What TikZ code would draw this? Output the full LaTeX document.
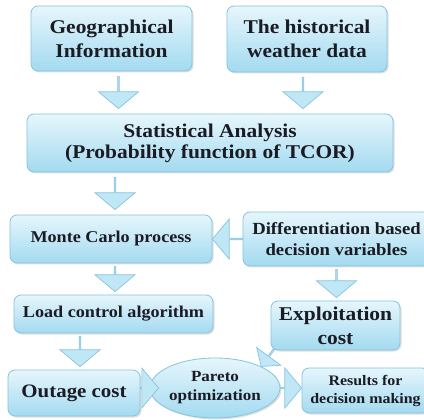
\documentclass[tikz,border=0pt]{standalone}
\usepackage{fontspec}
\setmainfont{Liberation Serif}[FakeStretch=1.1]
\usetikzlibrary{shapes.arrows,shapes.geometric,shadows,calc}

\definecolor{boxtop}{HTML}{E6F6FC}
\definecolor{boxbot}{HTML}{A3DAF0}
\definecolor{boxline}{HTML}{86C4DC}
\definecolor{arrfill}{HTML}{C0E7F6}
\definecolor{txt}{HTML}{1B1B24}

\pgfdeclarelayer{bg}
\pgfsetlayers{bg,main}

\tikzset{
    stepbox/.style={draw=boxline, line width=0.8pt, rounded corners=7pt,
        top color=boxtop, bottom color=boxbot,
        drop shadow={shadow xshift=1.5pt, shadow yshift=-1.5pt, opacity=0.25},
        text=txt, align=center, inner sep=0pt},
    fs/.style 2 args={font=\bfseries\fontsize{#1}{#2}\selectfont},
    blockarrow/.style={single arrow, draw=boxline, fill=arrfill, line width=0.7pt,
        minimum width=40pt, single arrow head extend=8.5pt,
        single arrow tip angle=100, inner sep=0pt, outer sep=0pt}
}

% fat arrow from #2 to #3, #1 = gap at both ends (pt)
\newcommand\fatarrow[3][5]{%
    \path let \p1=(#2), \p2=(#3),
              \n1={atan2(\y2-\y1,\x2-\x1)},
              \n2={veclen(\x2-\x1,\y2-\y1)} in
        node[blockarrow, rotate=\n1, anchor=tail, minimum height=\n2-2*#1]
            at ($(\p1)!#1pt!(\p2)$) {};
}

\begin{document}
\begin{tikzpicture}[x=1pt, y=-1pt]
    \useasboundingbox (0,0) rectangle (424,420);

    \node[stepbox, fs={19.5}{24}, minimum width=161pt, minimum height=65pt] (geo) at (111.5,38.5)
        {Geographical\\Information};
    \node[stepbox, fs={19.5}{24}, minimum width=160pt, minimum height=66pt] (hist) at (307,39)
        {The historical\\weather data};
    \node[stepbox, fs={19.5}{21}, minimum width=366pt, minimum height=58pt] (stat) at (210,143)
        {Statistical Analysis\\(Probability function of TCOR)};
    \node[stepbox, fs={16.5}{20}, minimum width=202pt, minimum height=48pt] (monte) at (111,239)
        {Monte Carlo process};
    \node[stepbox, fs={17}{21}, minimum width=187pt, minimum height=54pt] (diff) at (336.5,239)
        {Differentiation based\\decision variables};
    \node[stepbox, fs={16.5}{20}, minimum width=199pt, minimum height=38pt] (load) at (113.5,314)
        {Load control algorithm};
    \node[stepbox, fs={19.5}{24}, minimum width=129pt, minimum height=49pt] (exploit) at (335.5,325.5)
        {Exploitation\\cost};
    \node[stepbox, fs={19}{23}, minimum width=132pt, minimum height=46pt] (outage) at (74,393)
        {Outage cost};
    \begin{pgfonlayer}{bg}
        \node[stepbox, ellipse, fs={15.5}{19}, minimum width=104pt, minimum height=60pt] (pareto) at (215,388)
            {Pareto\\optimization};
    \end{pgfonlayer}
    \node[stepbox, fs={14.5}{18}, minimum width=127pt, minimum height=45pt] (results) at (365.5,390.5)
        {Results for\\decision making};

    \fatarrow{[xshift=7pt]geo.south}{[xshift=7pt]geo.south |- stat.north}
    \fatarrow{[xshift=-4pt]hist.south}{[xshift=-4pt]hist.south |- stat.north}
    \fatarrow{[xshift=4pt]monte.north |- stat.south}{[xshift=4pt]monte.north}
    \fatarrow[0]{diff.west}{diff.west -| monte.east}
    \fatarrow[3]{[xshift=4pt]monte.south}{[xshift=4pt]monte.south |- load.north}
    \fatarrow[3]{diff.south}{diff.south |- exploit.north}
    \fatarrow[3]{[xshift=6pt]outage.north |- load.south}{[xshift=6pt]outage.north}
    \fatarrow[0]{pareto.west -| outage.east}{[xshift=9pt]pareto.west}
    \fatarrow[0]{pareto.east}{pareto.east -| results.west}
    % runs under the exploitation box, over the ellipse
    \begin{pgfonlayer}{bg}
        \begin{scope}[blockarrow/.append style={minimum width=30pt, single arrow head extend=6.5pt}]
            \fatarrow[0]{[shift={(15pt,17pt)}]exploit.south west}{pareto.north east}
        \end{scope}
    \end{pgfonlayer}
\end{tikzpicture}
\end{document}
